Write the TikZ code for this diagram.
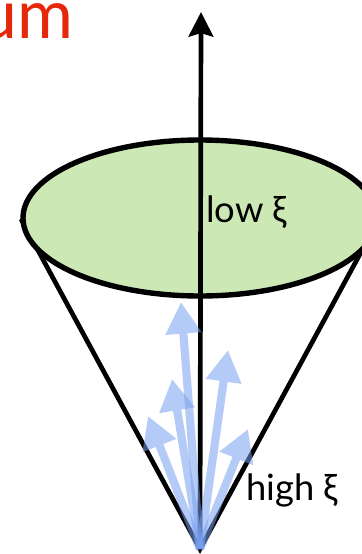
\documentclass[tikz,border=0pt]{standalone}
\usepackage{fontspec}
\setmainfont{Lato}
\usetikzlibrary{arrows.meta}
\definecolor{discgreen}{RGB}{204,232,181}
\definecolor{titlered}{RGB}{230,40,10}
\definecolor{jetblue}{RGB}{120,160,240}

\begin{document}
\begin{tikzpicture}[x=0.03cm,y=-0.03cm,
    jet/.style={line width=7pt, color=jetblue, -{Triangle[length=27pt,width=29pt]}},
    xilabel/.style={font=\fontsize{31}{37}\selectfont, anchor=base west, inner sep=0pt}]
  \useasboundingbox (0,0) rectangle (362,554);
  \clip (0,0) rectangle (362,554);
  \node[font=\fontsize{58}{64}\selectfont, text=titlered, anchor=base east, inner sep=0pt] (title) at (74,38) {um};
  \coordinate (apex) at (200,549);
  \coordinate (left) at (21,219);
  \coordinate (right) at (379,219);
  \draw[line width=4pt] (left) -- (apex) -- (right);
  \draw[line width=4.6pt, fill=discgreen] (200,218) ellipse [x radius=177, y radius=78];
  \draw[line width=4pt, -{Stealth[length=21pt,width=21pt,inset=3pt]}] (apex) -- (201,12);
  \node[xilabel] (low) at (206,222) {low ξ};
  \node[xilabel] (high) at (246,500) {high ξ};
  \foreach \x/\y in {181/302, 228/350, 172/379, 148/416, 248/429}
    {
      \begin{scope}[transparency group, opacity=0.55]
        \draw[jet] (apex) -- (\x,\y);
      \end{scope}
    }
\end{tikzpicture}
\end{document}
